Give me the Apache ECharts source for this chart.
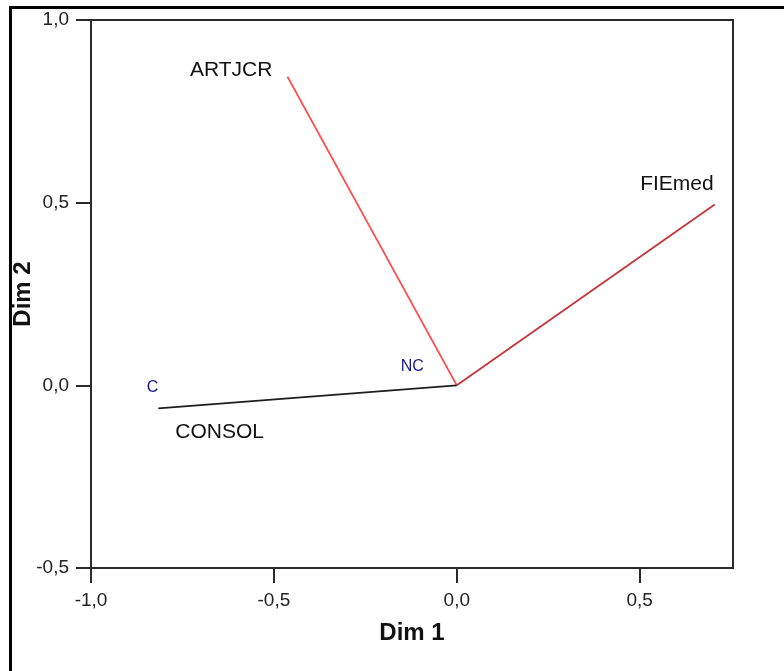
<!DOCTYPE html>
<html>
<head>
<meta charset="utf-8">
<script src="https://cdn.jsdelivr.net/npm/echarts@6/dist/echarts.min.js"></script>
<style>
html,body{margin:0;padding:0;background:#fff;}
#chart{width:784px;height:671px;}
</style>
</head>
<body>
<div id="chart"></div>
<script>
// Variable vectors (component loadings)
const variables = ['ARTJCR', 'FIEmed', 'CONSOL'];
const varDim1 = [-0.463, 0.705, -0.816];
const varDim2 = [0.845, 0.495, -0.063];
const varColors = ['#ff4a4a', '#c8343c', '#1e1e1e'];

// Category points
const categories = ['C', 'NC'];
const catDim1 = [-0.832, -0.122];
const catDim2 = [-0.005, 0.05];

// Axis ticks
const xTicks = [-1.0, -0.5, 0.0, 0.5];
const yTicks = [-0.5, 0.0, 0.5, 1.0];

// label placement (pixels, relative to vector end)
const labelLayout = {
  ARTJCR: { align: 'right', offset: [-15, -6] },
  FIEmed: { align: 'right', offset: [-1, -20] },
  CONSOL: { align: 'left', offset: [17, 24] }
};

const fmt = v => v.toFixed(1).replace('.', ',');
const FONT = '"Liberation Sans", Arial, sans-serif';

const series = [];
variables.forEach((name, i) => {
  series.push({
    type: 'line',
    name: name,
    data: [[0, 0], [varDim1[i], varDim2[i]]],
    showSymbol: false,
    symbol: 'none',
    lineStyle: { color: varColors[i], width: 1.8 },
    z: i === 1 ? 3 : 2,
    silent: true
  });
});
series.push({
  type: 'scatter',
  data: variables.map((n, i) => ({
    value: [varDim1[i], varDim2[i]],
    name: n,
    label: {
      show: true,
      position: 'inside',
      formatter: n,
      align: labelLayout[n].align,
      verticalAlign: 'middle',
      offset: labelLayout[n].offset,
      color: '#111',
      fontSize: 21,
      fontFamily: FONT
    }
  })),
  symbolSize: 2,
  itemStyle: { color: 'rgba(0,0,0,0)', opacity: 1 },
  silent: true,
  z: 5
});
series.push({
  type: 'scatter',
  data: categories.map((n, i) => ({
    value: [catDim1[i], catDim2[i]],
    name: n,
    label: {
      show: true,
      position: 'inside',
      formatter: n,
      align: 'center',
      verticalAlign: 'middle',
      color: '#16168a',
      fontSize: 16,
      fontFamily: FONT
    }
  })),
  symbolSize: 2,
  itemStyle: { color: 'rgba(0,0,0,0)', opacity: 1 },
  silent: true,
  z: 5
});

const chart = echarts.init(document.getElementById('chart'), null, { renderer: 'canvas' });
chart.setOption({
  animation: false,
  backgroundColor: '#ffffff',
  grid: {
    left: 91, right: 51, top: 20, bottom: 103,
    containLabel: false,
    outerBoundsMode: 'none',
    show: true, borderColor: '#2a2a2a', borderWidth: 2, backgroundColor: 'transparent'
  },
  xAxis: {
    type: 'value',
    min: -1.0, max: 0.755,
    name: 'Dim 1',
    nameLocation: 'middle',
    nameGap: 53,
    nameMoveOverlap: false,
    nameTextStyle: { fontSize: 24, fontWeight: 'bold', color: '#111', fontFamily: FONT },
    splitLine: { show: false },
    axisLine: { show: true, onZero: false, lineStyle: { color: '#2a2a2a', width: 2 } },
    axisTick: { show: true, customValues: xTicks, length: 15, lineStyle: { color: '#2a2a2a', width: 2 } },
    axisLabel: { customValues: xTicks, formatter: fmt, fontSize: 19, color: '#222', margin: 23, fontFamily: FONT }
  },
  yAxis: {
    type: 'value',
    min: -0.5, max: 1.0,
    name: 'Dim 2',
    nameLocation: 'middle',
    nameGap: 56,
    nameMoveOverlap: false,
    nameTextStyle: { fontSize: 24, fontWeight: 'bold', color: '#111', fontFamily: FONT },
    splitLine: { show: false },
    axisLine: { show: true, onZero: false, lineStyle: { color: '#2a2a2a', width: 2 } },
    axisTick: { show: true, customValues: yTicks, length: 15, lineStyle: { color: '#2a2a2a', width: 2 } },
    axisLabel: { customValues: yTicks, formatter: fmt, fontSize: 19, color: '#222', margin: 22, fontFamily: FONT }
  },
  graphic: [
    { type: 'line', shape: { x1: 9, y1: 7.5, x2: 784, y2: 7.5 }, style: { stroke: '#000', lineWidth: 3 }, silent: true },
    { type: 'line', shape: { x1: 10.5, y1: 6, x2: 10.5, y2: 671 }, style: { stroke: '#000', lineWidth: 3 }, silent: true }
  ],
  series: series
});
</script>
</body>
</html>
